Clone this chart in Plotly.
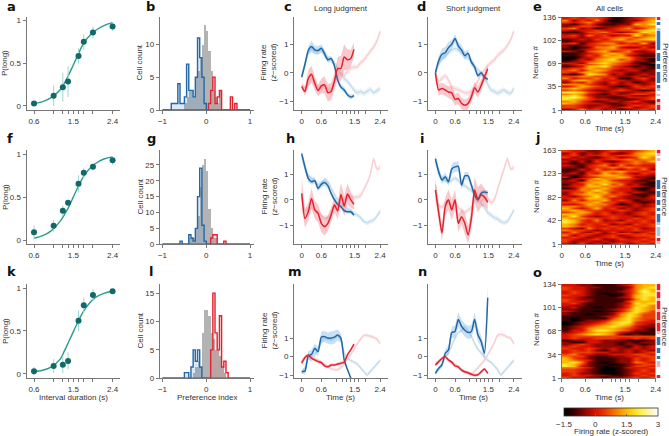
import numpy as np
import plotly.graph_objects as go

# ---------- psychometric data ----------
intervals = [0.6, 1.05, 1.26, 1.38, 1.62, 1.74, 1.95, 2.4]
fit_t = [0.6, 0.8, 1.0, 1.2, 1.3, 1.4, 1.5, 1.6, 1.7, 1.8, 2.0, 2.2, 2.4]
a_p = [0.03, 0.12, 0.22, 0.285, 0.585, 0.75, 0.86, 0.93]
a_err = [0.02, 0.12, 0.17, 0.18, 0.09, 0.09, 0.07, 0.05]
a_fit = [0.03, 0.05, 0.10, 0.19, 0.27, 0.37, 0.48, 0.59, 0.70, 0.78, 0.88, 0.94, 0.975]
f_p = [0.09, 0.165, 0.34, 0.435, 0.655, 0.785, 0.855, 0.93]
f_err = [0.08, 0.07, 0.06, 0.03, 0.10, 0.06, 0.04, 0.05]
f_fit = [0.02, 0.05, 0.11, 0.22, 0.30, 0.39, 0.50, 0.61, 0.71, 0.79, 0.89, 0.945, 0.97]
k_p = [0.03, 0.09, 0.105, 0.15, 0.62, 0.80, 0.92, 0.965]
k_err = [0.05, 0.08, 0.10, 0.10, 0.12, 0.09, 0.07, 0.02]
k_fit = [0.025, 0.04, 0.08, 0.17, 0.27, 0.38, 0.49, 0.60, 0.70, 0.78, 0.89, 0.94, 0.965]

# ---------- histogram counts (40 bins of 0.05 from -1 to 1) ----------
b_gray = [0]*10 + [1, 2, 3, 3, 2, 5, 6, 8, 10, 13, 12, 9, 6, 3, 2, 1, 3] + [0]*13
b_blue = [0]*4 + [1, 1, 1, 4, 1, 1, 2, 7, 3, 3, 2, 5, 11, 8, 5, 1] + [0]*20
b_red = [0]*21 + [1, 3, 5, 1, 2, 3, 0, 0, 0, 0, 2, 0, 1] + [0]*6
g_gray = [0]*12 + [2, 2, 2, 5, 9, 18, 25, 27, 23, 11, 5, 2, 2, 0] + [0]*14
g_blue = [0]*8 + [1, 0, 0, 0, 3, 2, 1, 5, 15, 24, 6, 1] + [0]*20
g_red = [0]*22 + [2, 3, 3, 0, 0, 0, 1] + [0]*11
l_gray = [0]*14 + [1, 2, 3, 2, 8, 12, 12, 11, 8, 7, 5, 5, 4, 2, 1] + [0]*11
l_blue = [0]*10 + [1, 1, 0, 2, 5, 3, 5, 2] + [0]*22
l_red = [0]*22 + [5, 15, 8, 5, 11, 2, 3, 1] + [0]*10

# ---------- firing rates ----------
t_long = [round(0.1*i, 1) for i in range(17)]
t_full = [round(0.1*i, 1) for i in range(25)]

c_blue = [-0.15, 0.3, 0.78, 0.92, 0.8, 0.78, 0.86, 0.66, 0.45, 0.5, 0.25, -0.25, -0.5, -0.6, -0.77, -0.85, -0.8]
c_red = [-0.48, -0.65, -0.2, -0.05, -0.37, -0.62, -0.46, -0.42, -0.7, -0.65, -0.3, 0.15, 0.15, 0.55, 0.46, 0.5, 0.82]
c_blue_e = [0.1, 0.15, 0.15, 0.2, 0.15, 0.15, 0.15, 0.15, 0.1, 0.1, 0.1, 0.1, 0.1, 0.1, 0.08, 0.08, 0.06]
c_red_e = [0.1, 0.15, 0.3, 0.3, 0.25, 0.2, 0.25, 0.3, 0.3, 0.3, 0.3, 0.4, 0.45, 0.45, 0.35, 0.3, 0.25]
c_pale_blue = [-0.1, 0.3, 0.7, 0.85, 0.75, 0.75, 0.8, 0.7, 0.5, 0.45, 0.35, 0.15, -0.05, -0.2, -0.3, -0.45, -0.6, -0.7, -0.65, -0.72, -0.65, -0.58, -0.7, -0.62, -0.55]
c_pale_red = [-0.45, -0.5, -0.35, -0.2, -0.35, -0.5, -0.55, -0.45, -0.55, -0.6, -0.3, -0.1, 0.0, -0.1, 0.05, 0.15, 0.2, 0.2, 0.35, 0.45, 0.6, 0.75, 0.9, 1.1, 1.45]

d_blue = [0.0, 0.42, 0.65, 0.7, 0.88, 1.0, 1.2, 0.94, 0.8, 0.6, 0.68, 0.37, 0.2, -0.1, 0.0, -0.15, -0.23]
d_red = [0.0, -0.6, -0.55, -0.6, -0.67, -0.7, -0.93, -0.9, -1.07, -1.13, -1.07, -0.84, -0.52, -0.67, -0.44, -0.15, 0.14]
d_blue_e = [0.08, 0.15, 0.2, 0.2, 0.2, 0.15, 0.15, 0.15, 0.15, 0.15, 0.12, 0.12, 0.1, 0.1, 0.08, 0.08, 0.08]
d_red_e = [0.1, 0.2, 0.2, 0.2, 0.2, 0.25, 0.2, 0.2, 0.2, 0.2, 0.2, 0.2, 0.2, 0.2, 0.2, 0.15, 0.15]
d_pale_blue = [0.0, 0.3, 0.5, 0.6, 0.7, 0.8, 0.85, 0.8, 0.7, 0.6, 0.5, 0.4, 0.25, 0.1, 0.0, -0.2, -0.4, -0.6, -0.65, -0.72, -0.65, -0.6, -0.68, -0.72, -0.55]
d_pale_red = [0.0, -0.3, -0.2, -0.1, -0.25, -0.5, -0.55, -0.6, -0.65, -0.7, -0.7, -0.65, -0.5, -0.3, -0.05, 0.1, 0.25, 0.35, 0.45, 0.6, 0.7, 0.8, 0.95, 1.15, 1.45]

h_blue = [1.8, 1.28, 0.83, 0.7, 0.74, 0.44, 0.6, 0.67, 0.55, 0.25, 0.0, -0.18, -0.27, -0.43, -0.47, -0.47, -0.6]
h_red = [0.25, -0.73, -0.47, 0.05, -0.4, -0.53, -0.92, -1.05, -0.92, -0.6, -0.2, -0.44, 0.2, -0.25, 0.22, 0.0, -0.18]
h_blue_e = [0.12, 0.15, 0.15, 0.12, 0.12, 0.12, 0.12, 0.12, 0.12, 0.1, 0.1, 0.1, 0.08, 0.08, 0.08, 0.08, 0.08]
h_red_e = [0.6, 0.35, 0.35, 0.4, 0.35, 0.35, 0.35, 0.35, 0.3, 0.3, 0.3, 0.3, 0.45, 0.4, 0.4, 0.3, 0.2]
h_pale_blue = [1.7, 1.2, 0.95, 0.85, 0.75, 0.6, 0.65, 0.8, 0.7, 0.45, 0.2, 0.0, -0.15, -0.25, -0.35, -0.4, -0.55, -0.6, -0.7, -0.85, -0.9, -0.85, -0.8, -0.65, -0.45]
h_pale_red = [0.1, -0.4, -0.4, -0.3, -0.4, -0.5, -0.6, -0.7, -0.7, -0.5, -0.3, -0.2, 0.0, 0.0, 0.1, 0.15, 0.1, 0.1, 0.15, 0.4, 0.65, 1.0, 1.6, 1.2, 1.25]

i_blue = [1.6, 1.1, 0.77, 0.9, 0.7, 1.2, 1.28, 1.3, 0.57, 0.93, 0.93, 0.57, 0.18, 0.0, 0.25, 0.3, 0.27]
i_red = [0.38, -0.5, -1.3, -0.27, 0.0, -0.4, 0.0, -0.92, -0.66, -0.92, -1.38, -0.73, 0.38, 0.0, 0.18, 0.1, -0.1]
i_blue_e = [0.15, 0.15, 0.15, 0.15, 0.15, 0.2, 0.2, 0.2, 0.15, 0.15, 0.15, 0.15, 0.15, 0.15, 0.12, 0.1, 0.1]
i_red_e = [0.4, 0.3, 0.3, 0.35, 0.4, 0.4, 0.4, 0.35, 0.3, 0.4, 0.35, 0.4, 0.5, 0.5, 0.45, 0.35, 0.3]
i_pale_blue = [1.5, 1.0, 0.8, 0.75, 0.7, 0.75, 0.85, 0.75, 0.6, 0.55, 0.45, 0.35, 0.2, 0.05, -0.15, -0.3, -0.5, -0.6, -0.7, -0.75, -0.85, -0.9, -0.85, -0.65, -0.4]
i_pale_red = [0.6, -0.2, -0.3, -0.1, -0.1, -0.3, -0.1, -0.3, -0.4, -0.5, -0.4, -0.3, 0.0, 0.0, -0.05, 0.1, 0.05, -0.1, 0.0, 0.4, 0.8, 1.2, 1.6, 1.2, 1.25]

m_blue = [-0.8, -0.78, 0.05, 0.12, 0.45, 0.27, 1.05, 1.08, 1.0, 1.0, 1.05, 1.17, 1.0, -0.18, -0.7, -1.15, -1.6]
m_red = [-0.35, -0.05, 0.08, -0.08, -0.18, -0.27, -0.32, -0.5, -0.55, -0.45, -0.45, -0.4, -0.36, -0.3, 0.1, 0.36, 0.67]
m_blue_e = [0.1, 0.2, 0.25, 0.25, 0.25, 0.25, 0.3, 0.3, 0.3, 0.35, 0.35, 0.3, 0.25, 0.1, 0.1, 0.1, 0.1]
m_red_e = [0.1, 0.1, 0.1, 0.08, 0.08, 0.08, 0.08, 0.08, 0.08, 0.08, 0.08, 0.08, 0.08, 0.08, 0.08, 0.08, 0.08]
m_pale_blue = [-0.9, -0.6, -0.1, -0.2, 0.1, 0.4, 0.8, 1.0, 0.95, 0.9, 1.0, 1.1, 0.9, 0.2, -0.1, -0.2, -0.3, -0.4, -0.6, -0.8, -1.0, -0.8, -0.6, -0.4, -0.2]
m_pale_red = [-0.3, 0.0, 0.1, 0.0, -0.1, -0.2, -0.3, -0.4, -0.55, -0.65, -0.7, -0.7, -0.6, -0.4, -0.1, 0.1, 0.4, 0.7, 0.95, 1.15, 1.15, 1.1, 1.05, 0.95, 0.7]

n_blue = [-0.9, -0.63, -0.45, 0.18, 0.36, 1.3, 1.36, 2.0, 1.64, 1.42, 1.3, 1.36, 2.0, 1.18, 0.82, 0.18, 3.18]
n_red = [-0.45, -0.27, -0.1, 0.0, -0.18, -0.3, -0.5, -0.55, -0.73, -0.82, -0.87, -0.95, -1.0, -0.98, -0.82, -0.67, -0.9]
n_blue_e = [0.1, 0.1, 0.15, 0.2, 0.25, 0.3, 0.35, 0.4, 0.35, 0.35, 0.35, 0.35, 0.4, 0.35, 0.3, 0.4, 0.6]
n_red_e = [0.1, 0.1, 0.08, 0.08, 0.08, 0.08, 0.08, 0.08, 0.08, 0.08, 0.08, 0.08, 0.08, 0.08, 0.08, 0.08, 0.08]
n_pale_blue = [-0.9, -0.7, -0.4, -0.1, 0.2, 0.6, 1.0, 1.3, 1.4, 1.6, 1.4, 1.1, 0.7, 0.4, 0.2, 0.0, -0.2, -0.3, -0.5, -0.7, -1.0, -0.8, -0.6, -0.4, -0.2]
n_pale_red = [-0.4, -0.25, -0.1, 0.0, -0.2, -0.3, -0.4, -0.55, -0.7, -0.85, -0.9, -0.95, -0.8, -0.6, -0.4, -0.2, 0.1, 0.4, 0.75, 1.15, 1.2, 1.15, 1.05, 1.0, 0.7]

# ---------- heat maps: one string per row, top to bottom; each digit is a colour
# level (0 = -1.5, 3 = 0, 6 = 1.5, 9 = 3 z-score) --------------------------------
heat_t = [0.1, 0.3, 0.5, 0.7, 0.9, 1.1, 1.3, 1.5, 1.7, 1.9, 2.1, 2.3]
e_heat = """343443112345 524352012246 434532112456 213421122657 234432234455 452312345346
323343344567 112445323476 222343445656 342534233745 332334455456 123243564567
122234445544 341345534362 212344554433 201255632242 112345544434 321456345223
012345654322 112436563211 002345665322 013256745320 123456654221 332567543102
234456543210 123667432121 344655433221 453565323312 435654332222 213765231232
445544322323 534453411342 356543332232 243532423123 555432323323 346543212434
565433232343 454322343212 776432322334 565321323443 675322233223 786422113334
765433221234 564312323421 654332123232 443223213434 443233234234 235342312343""".split()
j_heat = """433223433456 241324213567 342334344566 423213423475 232233445455 313142134546
212234344544 321345253433 221344545443 113253424352 122345564434 231436453243
212456654332 302345565221 123465554321 231556433212 224566543220 133657452311
234665543321 125556433102 335575433212 244656342321 245665443112 324574532213
344665332223 253556343122 445564423212 334655312323 554554332323 643463423234
565443343234 456534232343 665434332343 574323433234 655443433434 764352324343
764343343343 653434232434 654433434334 432534343423 544323333433 353242423234
443432344343 524323423444 343233432334 432342243343 423323233434 324232342343""".split()
o_heat = """332211123566 433221112567 433211113576 343211123586 343210113577 433211013677
332111123676 432211112576 433211114666 342111123767 322111124675 231101124765
221111235765 321101135764 211111246754 211011257644 111112357644 101111467544
101223567543 012234677433 012345676432 123456765322 123566654321 133577654221
234566532111 345676521211 344444444444 343344433434 122332221112 211332212122
234322212212 343322221323 433432322323 343421323232 344433223234 453322333443
544211223344 643211122434 654311122434 675210122543 764211012344 763210112443
554310013334 443210012343 443210012343 342210012434 343322112343 433221223434""".split()
# preference strips, top to bottom: R red, P pale red, W white, L pale blue, B blue
e_pref = list("RWBWLBBBBBBBWBBBWBBWBBBBWBLWPWRPRR")
j_pref = list("RPWPWWWWWWWBBBWBBWBBWBWBBBLWLLLWRP")
o_pref = list("RRPRRPRRRPRRRPRRRPWBBBWBBWBWLPWWWR")

# ---------- tick labels ----------
psy_ticks = [0.6, 1.05, 1.26, 1.38, 1.5, 1.62, 1.74, 1.95, 2.4]
psy_text = ["0.6", "", "", "", "1.5", "", "", "", "2.4"]
time_ticks = [0, 0.6, 1.05, 1.26, 1.38, 1.5, 1.62, 1.74, 1.95, 2.4]
time_text = ["0", "0.6", "", "", "", "", "1.5", "", "", "2.4"]
e_yticks, j_yticks, o_yticks = [1, 35, 69, 102, 136], [1, 42, 82, 123, 163], [1, 34, 68, 101, 134]

# ---------- styling ----------
W, H = 669, 436
FONT = "Liberation Sans"
TC, AX = "#333333", "#777777"
BLUE, RED = "#2367a6", "#e2232f"
TEAL, TEAL_D, TEAL_E = "#2a9d8a", "#12686a", "#9fd8cf"
ROWS = [(17, 110), (150, 244.3), (284, 378.3)]
FS = 8

fig = go.Figure()
layout = {}
counter = [0]


def new_axes(x0, x1, row, xrange, yrange, xticks=None, xtext=None, yticks=None, ytext=None,
             dtick=None, line_w=1.0):
    counter[0] += 1
    n = counter[0]
    xa, ya = f"xaxis{n}", f"yaxis{n}"
    base = dict(showgrid=False, zeroline=False, showline=True, linecolor=AX, linewidth=line_w,
                ticks="outside", ticklen=3, tickwidth=0.8, tickcolor=AX,
                tickfont=dict(size=FS, color=TC, family=FONT), fixedrange=True)
    layout[xa] = dict(base, domain=[x0 / W, x1 / W], range=xrange, anchor=f"y{n}",
                      tickmode="array", tickvals=xticks, ticktext=xtext)
    yd = dict(base, domain=[1 - row[1] / H, 1 - row[0] / H], range=yrange, anchor=f"x{n}")
    if yticks is not None:
        yd.update(tickmode="array", tickvals=yticks, ticktext=ytext or [str(v).replace("-", "\u2212") for v in yticks])
    layout[ya] = yd
    return f"x{n}", f"y{n}"


anns = []


def text(px, py, s, size=FS, angle=0, bold=False, family=FONT):
    anns.append(dict(x=px / W, y=1 - py / H, xref="paper", yref="paper", text=s, showarrow=False,
                     font=dict(size=size, color="#111111" if bold else TC, family=family),
                     textangle=angle, xanchor="center", yanchor="middle"))


def psych_panel(row, yr, p, err, fit):
    xa, ya = new_axes(26.5, 120, row, [0.428, 2.57], yr, psy_ticks, psy_text, [0, 0.5, 1], ["0", "0.5", "1"])
    fig.add_trace(go.Scatter(x=fit_t, y=fit, mode="lines", line=dict(color=TEAL, width=1.4, shape="spline"),
                             xaxis=xa, yaxis=ya))
    fig.add_trace(go.Scatter(x=intervals, y=p, mode="markers",
                             marker=dict(color=TEAL_D, size=6),
                             error_y=dict(type="data", array=err, color=TEAL_E, thickness=1, width=0),
                             xaxis=xa, yaxis=ya))


edges = np.linspace(-1, 1, 41)


def hist_panel(row, ymax, yticks, gray, blue, red):
    xa, ya = new_axes(160, 254, row, [-1.057, 1.09], [0, ymax], [-1, 0, 1], ["\u22121", "0", "1"], yticks,
                      line_w=1.3)
    fig.add_trace(go.Bar(x=(edges[:-1] + edges[1:]) / 2, y=gray, width=0.05, marker=dict(color="#b3b3b3", line_width=0),
                         xaxis=xa, yaxis=ya))
    for vals, col, fillc in ((blue, BLUE, "rgba(90,150,210,0.22)"), (red, RED, "rgba(235,80,90,0.15)")):
        fig.add_trace(go.Scatter(x=edges, y=list(vals) + [vals[-1]], mode="lines",
                                 line=dict(color=col, width=1.4, shape="hv"), fill="tozeroy", fillcolor=fillc,
                                 xaxis=xa, yaxis=ya))


def band(xa, ya, t, v, e, col):
    v, e = np.array(v), np.array(e)
    tt = np.array(t)
    fig.add_trace(go.Scatter(x=np.r_[tt, tt[::-1]], y=np.r_[v + e, (v - e)[::-1]], mode="lines", fill="toself",
                             fillcolor=col, line=dict(width=0), xaxis=xa, yaxis=ya))


def rate_panel(x0, row, yr, blue, red, be, re_, pb, pr):
    xa, ya = new_axes(x0, x0 + 94, row, [-0.236, 2.64], yr, time_ticks, time_text, [-1, 0, 1])
    e_pale = [0.1] * len(t_full)
    band(xa, ya, t_full, pb, e_pale, "rgba(150,195,225,0.22)")
    band(xa, ya, t_full, pr, e_pale, "rgba(245,170,175,0.22)")
    fig.add_trace(go.Scatter(x=t_full, y=pb, mode="lines", line=dict(color="#c6dcea", width=1.4, shape="spline", smoothing=0.6),
                             xaxis=xa, yaxis=ya))
    fig.add_trace(go.Scatter(x=t_full, y=pr, mode="lines", line=dict(color="#f7cfd2", width=1.4, shape="spline", smoothing=0.6),
                             xaxis=xa, yaxis=ya))
    band(xa, ya, t_long, blue, be, "rgba(110,175,225,0.38)")
    band(xa, ya, t_long, red, re_, "rgba(240,110,120,0.38)")
    fig.add_trace(go.Scatter(x=t_long, y=blue, mode="lines", line=dict(color=BLUE, width=1.5, shape="spline", smoothing=0.6),
                             xaxis=xa, yaxis=ya))
    fig.add_trace(go.Scatter(x=t_long, y=red, mode="lines", line=dict(color=RED, width=1.5, shape="spline", smoothing=0.6),
                             xaxis=xa, yaxis=ya))


CMAP = [[0, "#000000"], [0.11, "#3a0000"], [0.22, "#8a0800"], [0.333, "#d81200"], [0.42, "#e83000"],
        [0.55, "#f57c00"], [0.68, "#ffc000"], [0.8, "#ffee40"], [1, "#ffffff"]]
PREF_MAP = {"W": 0, "L": 1, "B": 2, "P": 3, "R": 4}
PREF_CS = [[0, "#ffffff"], [0.125, "#ffffff"], [0.125, "#a8c8e4"], [0.375, "#a8c8e4"], [0.375, "#2f76b4"],
           [0.625, "#2f76b4"], [0.625, "#f7b4bb"], [0.875, "#f7b4bb"], [0.875, "#ee1c2e"], [1, "#ee1c2e"]]


def heat_panel(row, heat, pref, yticks):
    n_neuron = yticks[-1]
    xa, ya = new_axes(561.7, 655.7, row, [0, 2.4], [1, n_neuron], time_ticks, time_text, yticks, [str(v) for v in yticks])
    n_rows = len(heat)
    z = [[-1.5 + 0.5 * int(c) for c in r] for r in heat[::-1]]
    fig.add_trace(go.Heatmap(z=z, x=heat_t,
                             y=np.linspace(1, n_neuron, n_rows + 1)[:-1] + (n_neuron - 1) / n_rows / 2,
                             coloraxis="coloraxis", zsmooth="best", xaxis=xa, yaxis=ya))
    # preference strip
    counter[0] += 1
    s = counter[0]
    layout[f"xaxis{s}"] = dict(domain=[656.5 / W, 660.5 / W], range=[0, 1], visible=False, anchor=f"y{s}", fixedrange=True)
    layout[f"yaxis{s}"] = dict(domain=[1 - row[1] / H, 1 - row[0] / H], range=[0, len(pref)], visible=False,
                               anchor=f"x{s}", fixedrange=True)
    zp = [[PREF_MAP[c]] for c in pref[::-1]]
    fig.add_trace(go.Heatmap(z=zp, x=[0.5], y=np.arange(len(pref)) + 0.5, zmin=0, zmax=4, colorscale=PREF_CS,
                             showscale=False, xaxis=f"x{s}", yaxis=f"y{s}"))


# ---------- panels ----------
psych_panel(ROWS[0], [-0.047, 1.041], a_p, a_err, a_fit)
hist_panel(ROWS[0], 14.2, [0, 5, 10], b_gray, b_blue, b_red)
rate_panel(294, ROWS[0], [-1.30, 1.95], c_blue, c_red, c_blue_e, c_red_e, c_pale_blue, c_pale_red)
rate_panel(427.7, ROWS[0], [-1.30, 1.95], d_blue, d_red, d_blue_e, d_red_e, d_pale_blue, d_pale_red)
heat_panel(ROWS[0], e_heat, e_pref, e_yticks)

psych_panel(ROWS[1], [-0.05, 1.05], f_p, f_err, f_fit)
hist_panel(ROWS[1], 29.7, [0, 5, 10, 15, 20, 25], g_gray, g_blue, g_red)
rate_panel(294, ROWS[1], [-1.74, 1.94], h_blue, h_red, h_blue_e, h_red_e, h_pale_blue, h_pale_red)
rate_panel(427.7, ROWS[1], [-1.74, 1.94], i_blue, i_red, i_blue_e, i_red_e, i_pale_blue, i_pale_red)
heat_panel(ROWS[1], j_heat, j_pref, j_yticks)

psych_panel(ROWS[2], [-0.054, 1.05], k_p, k_err, k_fit)
hist_panel(ROWS[2], 16.6, [0, 5, 10, 15], l_gray, l_blue, l_red)
rate_panel(294, ROWS[2], [-1.17, 3.92], m_blue, m_red, m_blue_e, m_red_e, m_pale_blue, m_pale_red)
rate_panel(427.7, ROWS[2], [-1.17, 3.92], n_blue, n_red, n_blue_e, n_red_e, n_pale_blue, n_pale_red)
heat_panel(ROWS[2], o_heat, o_pref, o_yticks)

# ---------- text ----------
BF = "DejaVu Sans"
for s, px, py in [("a", 11, 6), ("b", 150, 6), ("c", 288, 6), ("d", 421, 6), ("e", 537, 6),
                  ("f", 10, 138), ("g", 151, 138), ("h", 290, 138), ("i", 422, 138), ("j", 537, 137),
                  ("k", 11, 271), ("l", 151, 271), ("m", 295, 271), ("n", 422, 271), ("o", 537, 272)]:
    text(px, py, f"<b>{s}</b>", size=13, bold=True, family=BF)

text(341, 8, "Long judgment")
text(473, 8, "Short judgment")
text(609, 8, "All cells")
for yc_psy, yc_hist, yc_rate, yc_neuron, yc_pref in [(63, 63, 63, 63, 63), (197, 197, 197, 197, 197), (331, 331, 331, 330, 327)]:
    text(5, yc_psy, "P(long)", angle=-90)
    text(139.5, yc_hist, "Cell count", angle=-90)
    text(268.5, yc_rate, "Firing rate<br>(<i>z</i>\u2212scored)", angle=-90)
    text(536, yc_neuron, "Neuron #", angle=-90)
    text(665, yc_pref, "Preference", angle=90)
text(609, 129, "Time (s)")
text(609, 263, "Time (s)")
text(73, 397.5, "Interval duration (s)")
text(207, 397.5, "Preference index")
text(341, 397.5, "Time (s)")
text(473, 397.5, "Time (s)")
text(609, 397.5, "Time (s)")
text(611, 431.5, "Firing rate (z-scored)")

layout.update(
    width=W, height=H, margin=dict(l=0, r=0, t=0, b=0, autoexpand=False), paper_bgcolor="white", plot_bgcolor="white",
    showlegend=False, annotations=anns, barmode="overlay", bargap=0,
    font=dict(family=FONT, size=FS, color=TC),
    coloraxis=dict(cmin=-1.5, cmax=3, colorscale=CMAP, colorbar=dict(
        orientation="h", x=611 / W, xanchor="center", y=1 - 408 / H, yanchor="top",
        thickness=8, thicknessmode="pixels", len=94, lenmode="pixels", xpad=0, ypad=0,
        tick0=-1.5, dtick=1.5, ticks="inside", ticklen=2, tickwidth=0.8, tickcolor=AX,
        tickfont=dict(size=FS, color=TC, family=FONT), outlinewidth=0.8, outlinecolor="#333333")),
)
fig.update_layout(layout)
fig.write_html("out.html", config={"displayModeBar": False}, post_script="document.body.style.margin='0';")
